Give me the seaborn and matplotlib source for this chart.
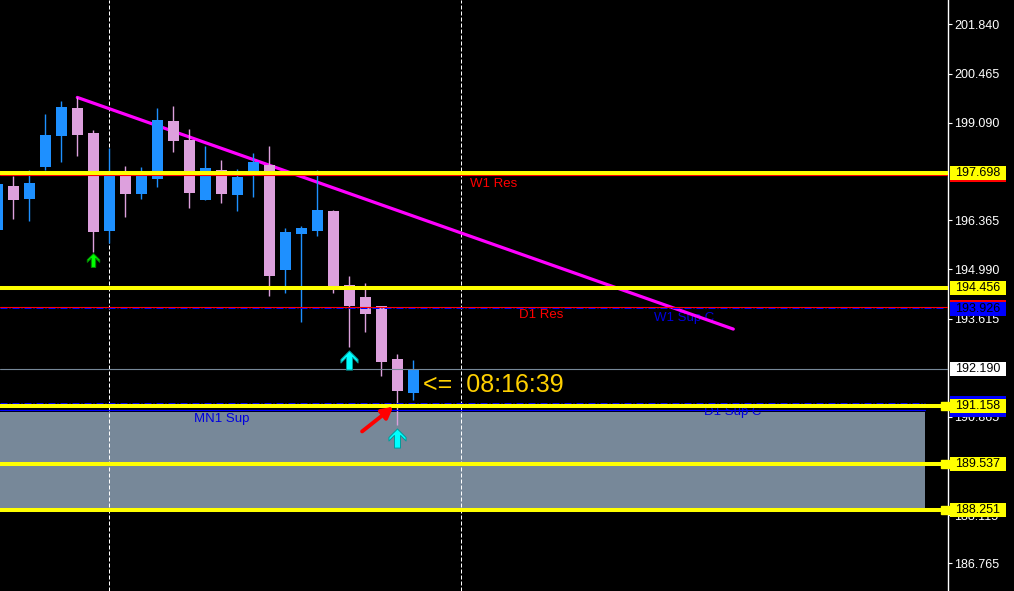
import matplotlib
matplotlib.use("Agg")
import matplotlib.pyplot as plt
import matplotlib.transforms as mtransforms
from matplotlib.patches import Rectangle
from matplotlib.path import Path
import numpy as np
import pandas as pd
import seaborn as sns

# ---------------- data ----------------
opens  = [196.092, 197.323, 196.959, 197.854, 198.721, 199.504, 198.805, 196.064, 197.630, 197.099,
          197.518, 199.141, 198.609, 196.931, 197.770, 197.071, 197.714, 197.910, 194.973, 195.980,
          196.064, 196.623, 194.553, 194.218, 193.966, 192.483, 191.532]
highs  = [197.462, 197.602, 197.770, 199.337, 199.700, 199.812, 198.889, 198.385, 197.882, 197.854,
          199.504, 199.560, 198.917, 198.441, 198.050, 197.798, 198.246, 198.441, 196.148, 196.204,
          197.770, 196.651, 194.805, 194.609, 193.966, 192.623, 192.455]
lows   = [196.036, 196.399, 196.343, 197.770, 197.994, 198.162, 195.476, 195.728, 196.455, 196.959,
          197.295, 198.274, 196.707, 196.931, 196.847, 196.623, 197.015, 194.246, 194.330, 193.518,
          195.924, 194.330, 192.819, 193.239, 192.008, 190.637, 191.337]
closes = [197.378, 196.931, 197.406, 198.749, 199.532, 198.749, 196.036, 197.658, 197.099, 197.630,
          199.169, 198.581, 197.127, 197.826, 197.099, 197.574, 197.994, 194.805, 196.036, 196.148,
          196.651, 194.469, 193.966, 193.742, 192.399, 191.588, 192.190]

yellow_levels = [197.698, 194.456, 191.158, 189.537, 188.251]
yellow_squares = [191.158, 189.537, 188.251]
red_levels = [197.622, 193.926]
blue_dashdot_levels = [193.900, 191.253]
blue_solid_level = 191.057
bid_price = 192.190
zone_bottom, zone_top, zone_end = 188.27, 191.01, 58.0

separators = [7, 29]
trend_x = [5, 46]
trend_y = [199.80, 193.32]

green_arrows = [6]
cyan_arrows = [22, 25]

y_ticks = [201.840, 200.465, 199.090, 196.365, 194.990, 193.615,
           190.865, 188.115, 186.765]

chart_labels = [("W1 Res", 29.54, 197.295, "#ff0000"),
                ("D1 Res", 32.63, 193.630, "#ff0000"),
                ("W1 Sup C", 41.06, 193.555, "#0000e0"),
                ("D1 Sup C", 44.19, 190.917, "#0000e0"),
                ("MN1 Sup", 12.31, 190.730, "#0000e0")]

# price boxes on the right scale: (price, face, text, zorder)
price_boxes = [(197.622, "#ff0000", "", 10),
               (197.698, "#ffff00", "197.698", 11),
               (194.456, "#ffff00", "194.456", 11),
               (193.926, "#ff0000", "", 10),
               (193.895, "#0000ff", "193.926", 11),
               (192.190, "#ffffff", "192.190", 11),
               (191.253, "#0000ff", "", 10),
               (191.057, "#0000ff", "", 10),
               (191.158, "#ffff00", "191.158", 12),
               (189.537, "#ffff00", "189.537", 11),
               (188.251, "#ffff00", "188.251", 11)]

timer_text = "<=  08:16:39"
timer_y = 191.569

# ---------------- style ----------------
sns.set_theme(style="dark", rc={"axes.facecolor": "black", "figure.facecolor": "black"})
plt.rcParams['font.family'] = ['Liberation Sans', 'DejaVu Sans']

W, H = 1014, 591
AX_R = 948
fig = plt.figure(figsize=(W / 100, H / 100), dpi=100, facecolor="black")
ax = fig.add_axes([0, 0, AX_R / W, 1])
ax.set_facecolor("black")

Y_TOP, Y_BOT = 202.525, 185.994
X_L = 2.7 / 16
X_R = X_L + AX_R / 16
ax.set_xlim(X_L, X_R)
ax.set_ylim(Y_BOT, Y_TOP)
ppu = H / (Y_TOP - Y_BOT)  # pixels per price unit

df = pd.DataFrame({"o": opens, "h": highs, "l": lows, "c": closes})
df["x"] = np.arange(len(df))
bull = df["c"] >= df["o"]
cols = np.where(bull, "#1e90ff", "#dda0dd")

# zone rectangle
ax.add_patch(Rectangle((X_L - 1, zone_bottom), zone_end - X_L + 1, zone_top - zone_bottom,
                       facecolor="#778899", edgecolor="none", zorder=1))

# period separators
for s in separators:
    ax.axvline(s, color="white", lw=0.72, ls=(0, (4, 2)), zorder=1.5)

# trend line
sns.lineplot(x=trend_x, y=trend_y, color="#ff00ff", lw=2.3, ax=ax, zorder=2.5)

# text labels
for t, x, y, c in chart_labels:
    ax.text(x, y, t, color=c, fontsize=9.5, ha="left", va="baseline", zorder=2.2)

# candles
ax.vlines(df["x"], df["l"], df["h"], colors=cols, lw=1.0, zorder=3)
ax.bar(df["x"], (df["c"] - df["o"]).abs().clip(lower=0.02), bottom=df[["o", "c"]].min(axis=1),
       width=11 / 16, color=cols, linewidth=0, zorder=3.1)

# horizontal lines
ax.axhline(bid_price, color="#778899", lw=0.8, zorder=3.5)
for lv in red_levels:
    ax.axhline(lv, color="#ff0000", lw=0.8, zorder=3.6)
for lv in blue_dashdot_levels:
    ax.plot([X_L, zone_end if lv < 192 else X_R - 0.2], [lv, lv], color="#0000ff", lw=0.72,
            ls=(0, (7, 2, 1, 2)), zorder=3.6)
ax.plot([X_L, zone_end], [blue_solid_level, blue_solid_level], color="#0000ff", lw=0.9, zorder=3.6)
for lv in yellow_levels:
    ax.axhline(lv, color="#ffff00", lw=2.9, zorder=4)

blend_ax = mtransforms.blended_transform_factory(ax.transAxes, ax.transData)
for lv in yellow_squares:
    ax.plot([945 / AX_R], [lv], marker="s", ms=6.2, color="#ffff00", transform=blend_ax,
            clip_on=False, zorder=4.1)

# signal arrows (chunky up-arrow glyph)
verts = [(0, 9.5), (8.5, 1.0), (8.5, -2.5), (3, 3.0), (3, -9.5), (-3, -9.5), (-3, 3.0),
         (-8.5, -2.5), (-8.5, 1.0), (0, 9.5)]
arrow_path = Path(verts, [Path.MOVETO] + [Path.LINETO] * 8 + [Path.CLOSEPOLY])
gx = np.array(green_arrows)
ax.scatter(gx, df.loc[gx, "l"] - (0.5 + 7.0) / ppu, marker=arrow_path, s=100,
           facecolor="#00ff00", edgecolor="#008800", linewidth=0.7, zorder=6)
cx = np.array(cyan_arrows)
ax.scatter(cx, df.loc[cx, "l"] - (3.5 + 9.5) / ppu, marker=arrow_path, s=190,
           facecolor="#00ffff", edgecolor="#009a9a", linewidth=0.7, zorder=6)

# red pointer arrow toward the low touching MN1 support
ax.annotate("", xy=(24.75, yellow_levels[2] - 0.01), xytext=(22.8, yellow_levels[2] - 0.70),
            arrowprops=dict(arrowstyle="-|>,head_length=0.55,head_width=0.3", color="#ff0000",
                            lw=2.8, shrinkA=0, shrinkB=0), zorder=7)

# timer text
ax.text(len(df) - 1 + 0.59, timer_y, timer_text, color="#ffd000", fontsize=18,
        ha="left", va="baseline", zorder=8)

# right axis
ax.yaxis.tick_right()
ax.set_yticks(y_ticks)
ax.set_yticklabels([f"{v:.3f}" for v in y_ticks])
ax.tick_params(axis="y", colors="white", labelcolor="white", labelsize=9, length=2.6,
               width=0.8, pad=2, direction="out")
ax.set_xticks([])
ax.grid(False)
for side in ["left", "top", "bottom"]:
    ax.spines[side].set_visible(False)
ax.spines["right"].set_color("white")
ax.spines["right"].set_linewidth(1.0)

# price boxes
blend_fig = mtransforms.blended_transform_factory(fig.transFigure, ax.transData)
bh = 14 / ppu
for price, face, txt, z in price_boxes:
    ax.add_patch(Rectangle((950 / W, price - bh / 2), 56 / W, bh, facecolor=face,
                           edgecolor="none", transform=blend_fig, clip_on=False, zorder=z))
    if txt:
        ax.text(955 / W, price, txt, color="black", fontsize=9, ha="left", va="center",
                transform=blend_fig, clip_on=False, zorder=z + 0.5)

fig.savefig("out.png", dpi=100, facecolor="black")
